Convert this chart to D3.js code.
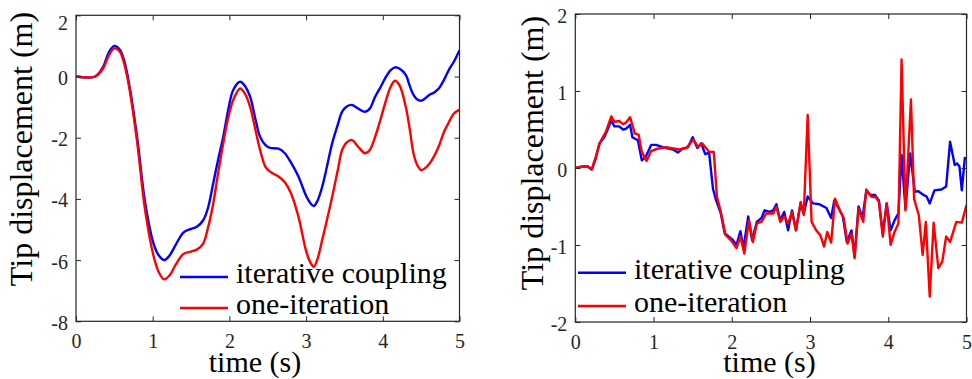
<!DOCTYPE html>
<html>
<head>
<meta charset="utf-8">
<script src="https://cdn.jsdelivr.net/npm/d3@7/dist/d3.min.js"></script>
<style>
  html, body { margin: 0; padding: 0; background: #fff; }
  svg { display: block; }
  svg text { font-family: "Liberation Serif", "Times New Roman", Tinos, serif !important; }
</style>
</head>
<body>
<svg id="chart" width="972" height="379"></svg>
<script>
// ---- Left panel: smooth tip displacement (m) over time (s) ----
const leftTime = [0, 0.25, 0.35, 0.43, 0.5, 0.57, 0.63, 0.7, 0.8, 0.9, 1.01, 1.08, 1.15, 1.22, 1.3, 1.4, 1.5, 1.58, 1.66, 1.72, 1.79, 1.85, 1.92, 1.98, 2.05, 2.14, 2.2, 2.27, 2.34, 2.4, 2.47, 2.53, 2.64, 2.72, 2.8, 2.9, 3.0, 3.05, 3.1, 3.15, 3.21, 3.28, 3.34, 3.41, 3.47, 3.53, 3.6, 3.68, 3.77, 3.83, 3.9, 3.97, 4.03, 4.1, 4.16, 4.22, 4.3, 4.35, 4.4, 4.45, 4.5, 4.55, 4.61, 4.67, 4.73, 4.8, 4.86, 4.93, 5.0];
const leftIterative = [0, 0, 0.3, 0.8, 1.0, 0.88, 0.5, -0.35, -2.05, -4.1, -5.45, -5.85, -6.0, -5.85, -5.5, -5.1, -4.98, -4.9, -4.69, -4.3, -3.48, -2.75, -1.97, -1.15, -0.44, -0.17, -0.3, -0.66, -1.4, -1.97, -2.24, -2.33, -2.36, -2.5, -2.8, -3.27, -3.9, -4.12, -4.23, -4.05, -3.6, -2.85, -2.18, -1.6, -1.15, -0.98, -0.93, -1.05, -1.15, -1.05, -0.66, -0.35, -0.06, 0.2, 0.3, 0.25, 0.05, -0.3, -0.6, -0.75, -0.79, -0.72, -0.6, -0.52, -0.39, -0.1, 0.21, 0.5, 0.86];
const leftOneIteration = [0, 0, 0.25, 0.7, 0.92, 0.82, 0.4, -0.45, -2.2, -4.35, -5.85, -6.4, -6.63, -6.5, -6.15, -5.8, -5.72, -5.65, -5.45, -4.95, -4.14, -3.2, -2.18, -1.4, -0.77, -0.39, -0.55, -0.99, -1.75, -2.4, -2.95, -3.11, -3.27, -3.45, -3.8, -4.58, -5.7, -6.05, -6.22, -5.95, -5.34, -4.6, -3.93, -3.1, -2.4, -2.15, -2.08, -2.3, -2.51, -2.4, -1.97, -1.4, -0.88, -0.35, -0.14, -0.3, -1.0, -1.7, -2.51, -2.9, -3.06, -3.0, -2.84, -2.6, -2.28, -1.8, -1.5, -1.2, -1.09];

// ---- Right panel: jagged tip displacement (m) over time (s) ----
const rightTimeIterative = [0, 0.094, 0.16, 0.21, 0.26, 0.31, 0.37, 0.41, 0.46, 0.5, 0.56, 0.61, 0.65, 0.7, 0.73, 0.8, 0.85, 0.9, 0.97, 1.03, 1.12, 1.25, 1.31, 1.37, 1.44, 1.5, 1.56, 1.61, 1.66, 1.71, 1.76, 1.8, 1.86, 1.91, 1.97, 2.01, 2.06, 2.11, 2.15, 2.21, 2.26, 2.32, 2.38, 2.42, 2.48, 2.53, 2.57, 2.62, 2.67, 2.72, 2.77, 2.82, 2.88, 2.92, 2.97, 3.04, 3.12, 3.21, 3.27, 3.31, 3.37, 3.42, 3.47, 3.53, 3.57, 3.62, 3.67, 3.72, 3.77, 3.83, 3.88, 3.93, 3.98, 4.03, 4.08, 4.13, 4.17, 4.22, 4.28, 4.34, 4.38, 4.45, 4.49, 4.53, 4.59, 4.68, 4.74, 4.79, 4.85, 4.88, 4.91, 4.94, 4.98];
const rightIterative = [0, 0.02, 0.02, -0.02, 0.12, 0.32, 0.4, 0.49, 0.62, 0.54, 0.54, 0.5, 0.51, 0.56, 0.4, 0.36, 0.1, 0.145, 0.3, 0.3, 0.27, 0.24, 0.2, 0.25, 0.27, 0.4, 0.26, 0.32, 0.18, 0.2, -0.27, -0.42, -0.59, -0.85, -0.9, -0.93, -1.0, -0.82, -1.04, -0.63, -0.94, -0.7, -0.65, -0.55, -0.57, -0.55, -0.47, -0.68, -0.57, -0.81, -0.55, -0.81, -0.46, -0.59, -0.37, -0.46, -0.47, -0.52, -0.65, -0.42, -0.53, -0.63, -0.96, -0.81, -1.15, -0.5, -0.65, -0.29, -0.35, -0.35, -0.42, -0.85, -0.46, -0.81, -0.68, -0.59, 0.17, -0.53, 0.19, -0.31, -0.3, -0.35, -0.37, -0.46, -0.29, -0.28, -0.24, 0.34, 0.04, 0.06, 0.02, -0.29, 0.145];
const rightTimeOneIteration = [0, 0.094, 0.16, 0.21, 0.26, 0.31, 0.39, 0.46, 0.5, 0.56, 0.61, 0.65, 0.7, 0.76, 0.81, 0.85, 0.91, 0.97, 1.05, 1.16, 1.33, 1.42, 1.51, 1.57, 1.62, 1.71, 1.77, 1.81, 1.86, 1.92, 1.99, 2.06, 2.11, 2.16, 2.22, 2.27, 2.32, 2.38, 2.44, 2.53, 2.57, 2.62, 2.67, 2.72, 2.77, 2.82, 2.88, 2.92, 2.97, 3.02, 3.08, 3.13, 3.18, 3.22, 3.27, 3.32, 3.38, 3.43, 3.48, 3.53, 3.57, 3.62, 3.68, 3.72, 3.78, 3.84, 3.88, 3.93, 3.98, 4.03, 4.08, 4.13, 4.17, 4.22, 4.29, 4.33, 4.39, 4.44, 4.48, 4.53, 4.58, 4.64, 4.69, 4.74, 4.79, 4.83, 4.87, 4.94, 5.0];
const rightOneIteration = [0, 0.02, 0.02, -0.02, 0.14, 0.32, 0.47, 0.67, 0.6, 0.61, 0.57, 0.59, 0.66, 0.45, 0.43, 0.21, 0.09, 0.22, 0.25, 0.27, 0.24, 0.26, 0.37, 0.27, 0.32, 0.21, 0.21, -0.37, -0.57, -0.87, -0.94, -1.04, -0.89, -1.11, -0.68, -0.96, -0.72, -0.7, -0.59, -0.59, -0.5, -0.7, -0.63, -0.72, -0.57, -0.81, -0.44, -0.61, 0.69, -0.7, -0.81, -0.87, -1.02, -0.83, -0.97, -0.4, -0.55, -0.65, -0.98, -0.85, -1.17, -0.53, -0.7, -0.28, -0.37, -0.38, -0.44, -0.89, -0.46, -1.0, -0.83, -0.72, 1.41, -0.55, 0.89, -0.4, -0.61, -1.13, -0.7, -1.67, -0.71, -1.3, -1.22, -0.89, -0.96, -0.83, -0.7, -0.71, -0.48];

// ---- Axis ticks and text ----
const xTicks = [0, 1, 2, 3, 4, 5];
const leftYTicks = [-8, -6, -4, -2, 0, 2];
const rightYTicks = [-2, -1, 0, 1, 2];
const seriesNames = ["iterative coupling", "one-iteration"];
const seriesColors = ["#0000ff", "#ff0000"];
const xLabel = "time (s)";
const yLabel = "Tip displacement (m)";

const FONT = '"Liberation Serif", "Times New Roman", Tinos, serif';
const svg = d3.select("#chart");
svg.append("rect").attr("width", 972).attr("height", 379).attr("fill", "#fff");

const axisColor = "#262626";

function serifText(sel, size) {
  return sel.attr("font-family", FONT)
    .style("font-family", FONT)
    .style("font-size", size + "px");
}

function drawPanel(opt) {
  const x = d3.scaleLinear().domain([0, 5]).range([opt.left, opt.right]);
  const y = d3.scaleLinear().domain(opt.yDomain).range([opt.bottom, opt.top]);
  const g = svg.append("g");

  // curves, clipped to the axes box
  const clipId = "clip-" + opt.id;
  svg.append("clipPath").attr("id", clipId)
    .append("rect")
    .attr("x", opt.left).attr("y", opt.top)
    .attr("width", opt.right - opt.left).attr("height", opt.bottom - opt.top);

  const line = d3.line()
    .x(d => x(d[0])).y(d => y(d[1]))
    .curve(opt.curve);

  opt.series.forEach((s, i) => {
    g.append("path")
      .datum(d3.zip(s.t, s.v))
      .attr("clip-path", `url(#${clipId})`)
      .attr("fill", "none")
      .attr("stroke", seriesColors[i])
      .attr("stroke-width", 2.4)
      .attr("stroke-linejoin", "round")
      .attr("d", line);
  });

  // axes with inward ticks on all four sides
  const tick = 5;
  const bottom = g.append("g").attr("transform", `translate(0,${opt.bottom})`)
    .call(d3.axisBottom(x).tickValues(xTicks).tickFormat(d3.format("d"))
      .tickSizeInner(-tick).tickSizeOuter(0).tickPadding(12.5));
  const top = g.append("g").attr("transform", `translate(0,${opt.top})`)
    .call(d3.axisTop(x).tickValues(xTicks).tickFormat("")
      .tickSizeInner(-tick).tickSizeOuter(0));
  const left = g.append("g").attr("transform", `translate(${opt.left},0)`)
    .call(d3.axisLeft(y).tickValues(opt.yTicks).tickFormat(d => String(d))
      .tickSizeInner(-tick).tickSizeOuter(0).tickPadding(8));
  const right = g.append("g").attr("transform", `translate(${opt.right},0)`)
    .call(d3.axisRight(y).tickValues(opt.yTicks).tickFormat("")
      .tickSizeInner(-tick).tickSizeOuter(0));

  [bottom, top, left, right].forEach(a => {
    a.attr("font-family", null).attr("font-size", null);
    a.select(".domain").remove();
    a.selectAll(".tick line").attr("stroke", axisColor).attr("stroke-width", 1);
    serifText(a.selectAll(".tick text").attr("fill", axisColor), 20);
  });
  // the topmost y label sits a little below its tick
  left.selectAll(".tick text")
    .attr("dy", d => d === opt.yDomain[1] ? `${0.4 + opt.topLabelDrop / 20}em` : "0.4em");

  g.append("rect")
    .attr("x", opt.left).attr("y", opt.top)
    .attr("width", opt.right - opt.left).attr("height", opt.bottom - opt.top)
    .attr("fill", "none").attr("stroke", axisColor).attr("stroke-width", 1.2);

  // axis titles
  serifText(g.append("text"), 30)
    .attr("x", opt.xLabelX).attr("y", 372)
    .attr("text-anchor", "middle")
    .attr("fill", "#000")
    .text(xLabel);
  serifText(g.append("text"), 32)
    .attr("transform", `translate(${opt.yLabelX},${opt.yLabelY}) rotate(-90)`)
    .attr("text-anchor", "middle")
    .attr("fill", "#000")
    .text(yLabel);

  // legend
  const lg = g.append("g");
  seriesNames.forEach((name, i) => {
    const ly = opt.legendY[i];
    lg.append("line")
      .attr("x1", opt.legendX).attr("x2", opt.legendX + 48)
      .attr("y1", ly).attr("y2", ly)
      .attr("stroke", seriesColors[i]).attr("stroke-width", 2.4);
    serifText(lg.append("text"), 30)
      .attr("x", opt.legendX + 56).attr("y", ly + 6)
      .attr("fill", "#000")
      .text(name);
  });
}

drawPanel({
  id: "left",
  left: 76, right: 459.5, top: 15.3, bottom: 321.3,
  yDomain: [-8, 2], yTicks: leftYTicks, topLabelDrop: 6,
  curve: d3.curveCatmullRom.alpha(0.5),
  series: [
    { t: leftTime, v: leftIterative },
    { t: leftTime, v: leftOneIteration }
  ],
  xLabelX: 255, yLabelX: 32, yLabelY: 149,
  legendX: 180, legendY: [277, 308]
});

drawPanel({
  id: "right",
  left: 575.3, right: 966.5, top: 14, bottom: 322,
  yDomain: [-2, 2], yTicks: rightYTicks, topLabelDrop: 0,
  curve: d3.curveLinear,
  series: [
    { t: rightTimeIterative, v: rightIterative },
    { t: rightTimeOneIteration, v: rightOneIteration }
  ],
  xLabelX: 769.5, yLabelX: 543, yLabelY: 153,
  legendX: 578, legendY: [272.7, 306]
});
</script>
</body>
</html>
